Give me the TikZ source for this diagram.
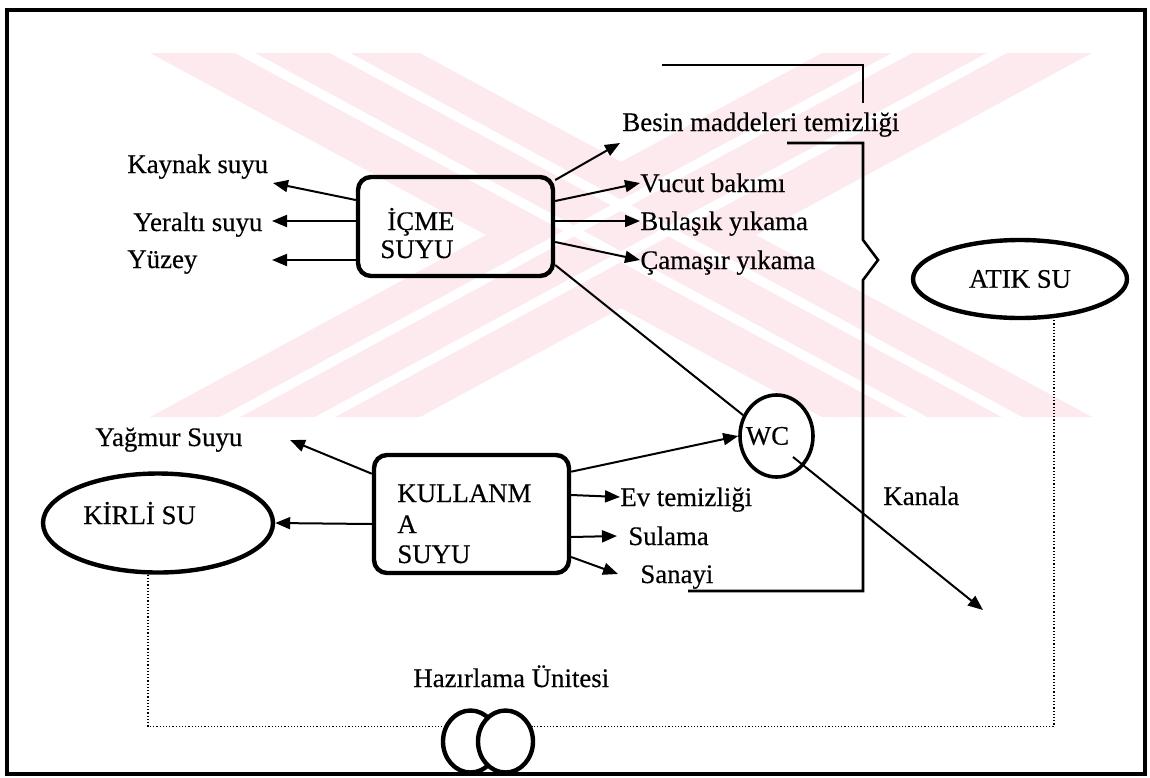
\documentclass[tikz,border=0pt]{standalone}
\usepackage{fontspec}
\setmainfont{Liberation Serif}[FakeBold=0.4]
\usetikzlibrary{arrows.meta,shapes.geometric}
\definecolor{wmark}{RGB}{253,234,238}

\begin{document}
\begin{tikzpicture}[x=0.5pt, y=-0.5pt, font=\fontsize{13.4}{15}\selectfont,
  lbl/.style={inner sep=0pt, text height=9pt, text depth=0pt, anchor=base west},
  rbox/.style={draw, line width=2.2pt, rounded corners=6.5pt, minimum width=97.5pt},
  oval/.style={draw, ellipse, line width=2.2pt, inner sep=0pt},
  arr/.style={line width=1pt, -{Triangle[length=7.5pt,width=6pt]}},
  dotline/.style={line width=0.6pt, densely dotted}]
  \useasboundingbox (0,0) rectangle (1150,777);

  % watermark
  \begin{scope}
    \clip (150,53) rectangle (1092,417);
    \fill[wmark] (150,53) -- (420,53) -- (1092,417) -- (822,417) -- cycle;
    \fill[wmark] (822,53) -- (1092,53) -- (420,417) -- (150,417) -- cycle;
    \foreach \d in {85,180}
    {
      \fill[white] (150+\d,53) -- (170+\d,53) -- (842+\d,417) -- (822+\d,417) -- cycle;
      \fill[white] (1072-\d,53) -- (1092-\d,53) -- (420-\d,417) -- (400-\d,417) -- cycle;
    }
  \end{scope}

  \draw[line width=2pt] (7,10) rectangle (1145,774);

  \node[rbox, minimum height=49.5pt] (icme) at (455.5,226.5) {};
  \node[rbox, minimum height=59pt] (kul) at (471.5,514) {};
  \node[oval, minimum width=107pt, minimum height=39pt] (atik) at (1020,279) {ATIK SU};
  \node[oval, minimum width=115pt, minimum height=49.5pt] (kirli) at (158,523) {};
  \node[oval, minimum width=36.5pt, minimum height=41pt, line width=1.8pt] (wc) at (776.5,436) {\hspace*{-9pt}WC};
  \node[oval, minimum width=27.5pt, minimum height=31pt, fill=white] (hz1) at (470.5,741.5) {};
  \node[oval, minimum width=27.5pt, minimum height=31pt, fill=white] (hz2) at (505.5,741.5) {};

  \node[lbl] (icme1) at (387,230) {İÇME};
  \node[lbl] (icme2) at (380,258) {SUYU};
  \node[lbl] (kul1) at (397,502) {KULLANM};
  \node[lbl] (kul2) at (397,533) {A};
  \node[lbl] (kul3) at (397,563) {SUYU};
  \node[lbl] (kirlitxt) at (83,524) {KİRLİ SU};

  \node[lbl] (kaynak) at (127,173) {Kaynak suyu};
  \node[lbl] (yeralti) at (133,231) {Yeraltı suyu};
  \node[lbl] (yuzey) at (127,268) {Yüzey};
  \node[lbl] (besin) at (622,131) {Besin maddeleri temizliği};
  \node[lbl] (vucut) at (640,192) {Vucut bakımı};
  \node[lbl] (bulasik) at (640,230) {Bulaşık yıkama};
  \node[lbl] (camasir) at (640,269) {Çamaşır yıkama};
  \node[lbl] (yagmur) at (95,446) {Yağmur Suyu};
  \node[lbl] (ev) at (620,506) {Ev temizliği};
  \node[lbl] (sulama) at (628,545) {Sulama};
  \node[lbl] (sanayi) at (640,583) {Sanayi};
  \node[lbl] (kanala) at (883,505) {Kanala};
  \node[lbl] (hazir) at (413,687) {Hazırlama Ünitesi};

  \coordinate (kaynakT) at (273,183);
  \coordinate (yeraltiT) at (272,221);
  \coordinate (yuzeyT) at (272,260);
  \coordinate (besinT) at (620,143);
  \coordinate (yagmurT) at (290,440);
  \coordinate (wcK) at (793,457);
  \coordinate (kanalaT) at (983,610);

  \draw[arr] ([yshift=13.25pt]icme.west) -- (kaynakT);
  \draw[arr] ([yshift=2.75pt]icme.west) -- (yeraltiT);
  \draw[arr] ([yshift=-16.75pt]icme.west) -- (yuzeyT);
  \draw[arr] (icme.25) -- (besinT);
  \draw[arr] ([yshift=12.75pt]icme.east) -- (vucut.west);
  \draw[arr] ([yshift=2.75pt]icme.east) -- (bulasik.west);
  \draw[arr] ([yshift=-7.75pt]icme.east) -- (camasir.west);
  \draw[line width=1pt] ([yshift=-19.25pt]icme.east) -- (wc.148);

  \draw[arr] (kul.158) -- (yagmurT);
  \draw[arr] ([yshift=-5pt]kul.west) -- (kirli.east);
  \draw[arr] (kul.23) -- (wc.west);
  \draw[arr] ([yshift=9.5pt]kul.east) -- (ev.west);
  \draw[arr] ([yshift=-11.5pt]kul.east) -- ([xshift=-5.5pt]sulama.west);
  \draw[arr] ([yshift=-21.5pt]kul.east) -- ([xshift=-11pt]sanayi.west);
  \draw[arr] (wcK) -- (kanalaT);

  % brace
  \draw[line width=1.3pt] (662,65) -- (863,65) -- (863,103);
  \draw[line width=1.3pt] (787,143) -- (863,143) -- (863,240) -- (878,260) -- (863,280) -- (863,591) -- (688,591);

  \draw[dotline] ([xshift=-5pt]kirli.south) |- (hz1.150);
  \draw[dotline] ([xshift=17pt]atik.south) |- (hz2.30);
\end{tikzpicture}
\end{document}
